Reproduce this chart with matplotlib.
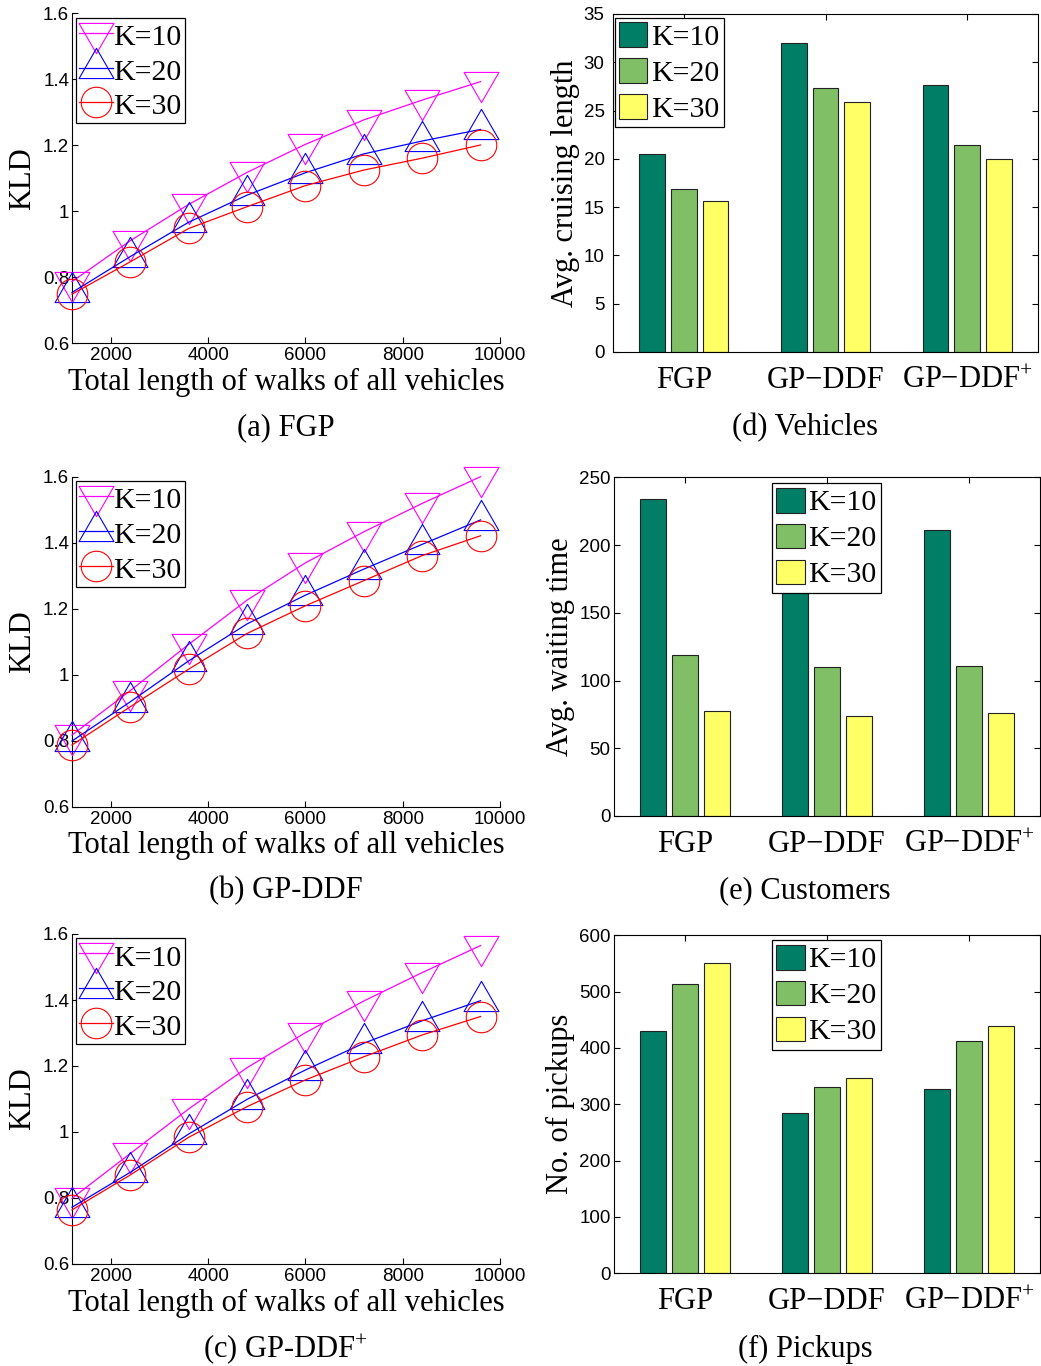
import matplotlib
matplotlib.use("Agg")
import matplotlib.pyplot as plt
from matplotlib.path import Path
import numpy as np

plt.rcParams['mathtext.fontset'] = 'custom'
plt.rcParams['mathtext.rm'] = 'Liberation Serif'
plt.rcParams['mathtext.it'] = 'Liberation Serif:italic'

SERIF = 'Liberation Serif'
SANS = 'Liberation Sans'

# ---- KLD vs. total walk length ----
walk_lengths = [1200, 2400, 3600, 4800, 6000, 7200, 8400, 9600]

fgp_k10 = [0.787, 0.911, 1.021, 1.118, 1.203, 1.277, 1.337, 1.393]
fgp_k20 = [0.754, 0.863, 0.967, 1.049, 1.117, 1.174, 1.213, 1.248]
fgp_k30 = [0.749, 0.847, 0.948, 1.014, 1.078, 1.125, 1.161, 1.201]

ddf_k10 = [0.817, 0.952, 1.092, 1.226, 1.339, 1.433, 1.519, 1.600]
ddf_k20 = [0.799, 0.918, 1.042, 1.154, 1.241, 1.320, 1.395, 1.469]
ddf_k30 = [0.787, 0.903, 1.017, 1.125, 1.209, 1.285, 1.361, 1.421]

ddfp_k10 = [0.799, 0.935, 1.070, 1.195, 1.301, 1.397, 1.483, 1.565]
ddfp_k20 = [0.772, 0.878, 0.994, 1.099, 1.188, 1.269, 1.337, 1.398]
ddfp_k30 = [0.764, 0.870, 0.984, 1.077, 1.158, 1.228, 1.294, 1.350]

k_labels = ['K=10', 'K=20', 'K=30']
x_ticks = [2000, 4000, 6000, 8000, 10000]
kld_ticks = [0.6, 0.8, 1.0, 1.2, 1.4, 1.6]
kld_tick_labels = ['0.6', '0.8', '1', '1.2', '1.4', '1.6']

# ---- Bar charts ----
methods = ['FGP', 'GP\u2212DDF', 'GP\u2212DDF$^{+}$']

cruise_k10 = [20.5, 32.0, 27.6]
cruise_k20 = [16.9, 27.3, 21.4]
cruise_k30 = [15.6, 25.9, 20.0]

wait_k10 = [233.8, 205.0, 211.4]
wait_k20 = [118.6, 110.2, 111.0]
wait_k30 = [77.8, 74.1, 75.8]

pick_k10 = [430.8, 285.2, 327.2]
pick_k20 = [513.0, 330.2, 413.0]
pick_k30 = [550.3, 346.2, 439.6]

W, H = 1041, 1366
fig = plt.figure(figsize=(W / 100, H / 100), dpi=100)


def px_axes(left, right, top, bottom):
    return fig.add_axes([left / W, 1 - bottom / H, (right - left) / W, (bottom - top) / H])


# triangles centred on their centroid
tri_up = Path([(0, 1), (-0.866, -0.5), (0.866, -0.5), (0, 1)],
              [Path.MOVETO, Path.LINETO, Path.LINETO, Path.CLOSEPOLY])
tri_dn = Path([(0, -1), (-0.866, 0.5), (0.866, 0.5), (0, -1)],
              [Path.MOVETO, Path.LINETO, Path.LINETO, Path.CLOSEPOLY])

line_styles = [
    dict(color='#ff00ff', marker=tri_dn, markersize=29),
    dict(color='#0000ff', marker=tri_up, markersize=29),
    dict(color='#ff0000', marker='o', markersize=22),
]


def kld_panel(ax, series, caption, cap_y):
    for vals, st, lab in zip(series, line_styles, k_labels):
        ax.plot(walk_lengths, vals, color=st['color'], lw=0.9,
                marker=st['marker'], markersize=st['markersize'],
                markerfacecolor='none', markeredgecolor=st['color'],
                markeredgewidth=0.8, label=lab, clip_on=False, zorder=3)
    ax.set_xlim(1200, 10000)
    ax.set_ylim(0.6, 1.6)
    ax.set_xticks(x_ticks)
    ax.set_xticklabels([str(t) for t in x_ticks])
    ax.set_yticks(kld_ticks)
    ax.set_yticklabels(kld_tick_labels)
    for s in ('top', 'right'):
        ax.spines[s].set_visible(False)
    for s in ('left', 'bottom'):
        ax.spines[s].set_linewidth(0.8)
    ax.tick_params(direction='in', length=4, width=0.8, pad=2, labelsize=13.5)
    ax.tick_params(axis='x', pad=3)
    for t in ax.get_xticklabels() + ax.get_yticklabels():
        t.set_fontfamily(SANS)
    ax.set_xlabel('Total length of walks of all vehicles', family=SERIF,
                  fontsize=22, labelpad=2.5)
    ax.set_ylabel('KLD', family=SERIF, fontsize=22, labelpad=4.5)
    leg = ax.legend(loc='upper left', prop=dict(family=SERIF, size=21.5),
                    handlelength=1.12, handleheight=1.05, handletextpad=0.02,
                    numpoints=1, borderpad=0.1, labelspacing=0.16,
                    borderaxespad=0.15, fancybox=False, edgecolor='black',
                    framealpha=1)
    leg.get_frame().set_linewidth(0.9)
    fig.text(286 / W, 1 - cap_y / H, caption, family=SERIF, fontsize=22,
             ha='center', va='center')


bar_colors = ['#007f66', '#80bf66', '#ffff66']


def bar_panel(ax, series, ylim, yticks, ylabel, caption, cap_y, legend_loc,
              legend_anchor, ypad):
    x = np.arange(1, len(methods) + 1)
    width = 0.18
    offsets = [-0.224, 0.0, 0.224]
    for vals, off, col, lab in zip(series, offsets, bar_colors, k_labels):
        ax.bar(x + off, vals, width=width, color=col, edgecolor='#222222',
               linewidth=0.8, label=lab, zorder=2)
    ax.set_xlim(0.5, 3.5)
    ax.set_ylim(*ylim)
    ax.set_xticks(x)
    ax.set_xticklabels(methods, family=SERIF, fontsize=22)
    ax.set_yticks(yticks)
    ax.set_yticklabels([str(t) for t in yticks], family=SANS, fontsize=13.5)
    for s in ax.spines.values():
        s.set_linewidth(0.8)
    ax.tick_params(direction='in', length=4, width=0.8, top=True, right=True)
    ax.tick_params(axis='x', pad=10)
    ax.tick_params(axis='y', pad=ypad)
    ax.set_ylabel(ylabel, family=SERIF, fontsize=22, labelpad=3)
    leg = ax.legend(loc=legend_loc, bbox_to_anchor=legend_anchor,
                    prop=dict(family=SERIF, size=21.5),
                    handlelength=0.95, handleheight=0.9, handletextpad=0.12,
                    borderpad=0.15, labelspacing=0.24, borderaxespad=0.0,
                    fancybox=False, edgecolor='black', framealpha=1)
    leg.get_frame().set_linewidth(0.9)
    leg.set_zorder(5)
    fig.text(805 / W, 1 - cap_y / H, caption, family=SERIF, fontsize=22,
             ha='center', va='center')


ax_a = px_axes(72, 500, 13.3, 343.3)
kld_panel(ax_a, [fgp_k10, fgp_k20, fgp_k30], '(a) FGP', 428)

ax_b = px_axes(72, 500, 476.7, 806.7)
kld_panel(ax_b, [ddf_k10, ddf_k20, ddf_k30], '(b) GP-DDF', 891)

ax_c = px_axes(72, 500, 934, 1264)
kld_panel(ax_c, [ddfp_k10, ddfp_k20, ddfp_k30], '(c) GP-DDF$^{+}$', 1349)

ax_d = px_axes(613, 1038, 14, 352)
bar_panel(ax_d, [cruise_k10, cruise_k20, cruise_k30], (0, 35),
          [0, 5, 10, 15, 20, 25, 30, 35], 'Avg. cruising length',
          '(d) Vehicles', 428, 'upper left', (1.5 / 425, 1 - 4 / 338), 6)

ax_e = px_axes(614, 1040, 477.3, 816)
bar_panel(ax_e, [wait_k10, wait_k20, wait_k30], (0, 250),
          [0, 50, 100, 150, 200, 250], 'Avg. waiting time',
          '(e) Customers', 891, 'upper center', (0.5 - 0.5 / 426, 1 - 6 / 338.7), 2.5)

ax_f = px_axes(614, 1040, 935.3, 1273.3)
bar_panel(ax_f, [pick_k10, pick_k20, pick_k30], (0, 600),
          [0, 100, 200, 300, 400, 500, 600], 'No. of pickups',
          '(f) Pickups', 1349, 'upper center', (0.5 - 0.5 / 426, 1 - 5 / 338), 2.5)

fig.savefig('out.png', dpi=100, facecolor='white')
